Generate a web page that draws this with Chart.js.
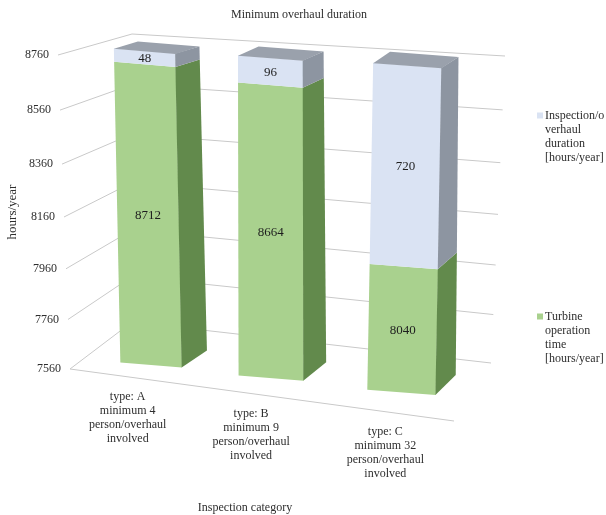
<!DOCTYPE html>
<html><head><meta charset="utf-8">
<script src="https://cdn.jsdelivr.net/npm/chart.js@4.4.0/dist/chart.umd.min.js"></script>
<style>html,body{margin:0;padding:0;background:#fff;}canvas{display:block;}</style>
</head><body>
<canvas id="c" width="606" height="515"></canvas>
<script>
// ---------- data ----------
const categories = [
  ["type: A", "minimum 4", "person/overhaul", "involved"],
  ["type: B", "minimum 9", "person/overhaul", "involved"],
  ["type: C", "minimum 32", "person/overhaul", "involved"]
];
const turbineOperation = [8712, 8664, 8040];
const inspectionDuration = [48, 96, 720];
const yTickValues = [7560, 7760, 7960, 8160, 8360, 8560, 8760];
const seriesNames = ["Turbine operation time [hours/year]", "Inspection/overhaul duration [hours/year]"];
const legendLines = [["Inspection/o", "verhaul", "duration", "[hours/year]"], ["Turbine", "operation", "time", "[hours/year]"]];
const chartTitle = "Minimum overhaul duration";
const yAxisTitle = "hours/year";
const xAxisTitle = "Inspection category";

// ---------- style / projection ----------
const FONT = '"Liberation Serif", "Times New Roman", serif';
const frontColors = ['#a9d18e', '#dae3f3'];
const sideColors = ['#628a4c', '#8d95a1'];
const topColor = '#9aa1ac';
const gridColor = '#c9c9c9';
const textColor = '#2e2e2e';

const warp = t => (334 * t - 20 * t * t) / 314;
const topL = x => 51 + 0.055 * (x - 144.5);
const botL = x => 365 + 0.104 * (x - 144.5);
const xwarp = x => 0.00032 * (x - 144.5) * (x - 407);
const widthScale = x => 1 + 0.0004 * (x - 276);
const shiftBottom = x => 6.5 - 0.047 * (x - 144.5);
const slopeX = 0.08;
const depth = (xs, t) => {
  const w = warp(t);
  const tx = 24 - 0.027 * (xs - 144.5), ty = -7 - 0.0153 * (xs - 144.5);
  const bx = 25 - 0.019 * (xs - 144.5), by = -17 - 0.0115 * (xs - 144.5);
  return { x: tx + (bx - tx) * w, y: ty + (by - ty) * w };
};
const FL = t => ({ x: 58 + 12 * t, y: 55 + 314 * warp(t) });
const BL = t => ({ x: 132, y: 34 + 288 * warp(t) });
const BR = t => ({ x: 505 - 14 * t, y: 56 + 307 * warp(t) });
const FR = { x: 454, y: 421 };

const perspectivePlugin = {
  id: 'perspective3d',
  beforeDatasetsDraw(chart) {
    const ctx = chart.ctx;
    const ys = chart.scales.y;
    const cTop = ys.getPixelForValue(ys.max);
    const cBot = ys.getPixelForValue(ys.min);
    const H = cBot - cTop;
    const tOfPix = p => (p - cTop) / H;

    ctx.save();
    // walls & floor gridlines
    ctx.strokeStyle = gridColor; ctx.lineWidth = 1;
    yTickValues.forEach(v => {
      const t = tOfPix(ys.getPixelForValue(v));
      const a = FL(t), b = BL(t), c = BR(t);
      ctx.beginPath(); ctx.moveTo(a.x, a.y); ctx.lineTo(b.x, b.y); ctx.lineTo(c.x, c.y); ctx.stroke();
    });
    const f0 = FL(1);
    ctx.beginPath(); ctx.moveTo(f0.x, f0.y); ctx.lineTo(FR.x, FR.y); ctx.stroke();

    // tick labels
    ctx.fillStyle = textColor; ctx.font = '12px ' + FONT;
    ctx.textAlign = 'right'; ctx.textBaseline = 'middle';
    yTickValues.forEach(v => {
      const p = FL(tOfPix(ys.getPixelForValue(v)));
      ctx.fillText(String(v), p.x - 9, p.y);
    });

    // titles
    ctx.textAlign = 'center';
    ctx.font = '12px ' + FONT;
    ctx.fillText(chartTitle, 299, 15);
    ctx.fillText(xAxisTitle, 245, 508);
    ctx.save();
    ctx.translate(13, 212); ctx.rotate(-Math.PI / 2);
    ctx.font = '13px ' + FONT;
    ctx.fillText(yAxisTitle, 0, 0);
    ctx.restore();

    // legend
    ctx.textAlign = 'left';
    ctx.font = '12px ' + FONT;
    const legendY = [116, 317];
    const legendColor = [frontColors[1], frontColors[0]];
    legendLines.forEach((lines, k) => {
      ctx.fillStyle = legendColor[k];
      ctx.fillRect(537, legendY[k] - 3.5, 6, 6);
      ctx.fillStyle = textColor;
      lines.forEach((s, j) => ctx.fillText(s, 545, legendY[k] + j * 14));
    });

    // bars
    const metas = chart.getSortedVisibleDatasetMetas();
    const n = chart.data.labels.length;
    const floorY = x => f0.y + (FR.y - f0.y) * (x - f0.x) / (FR.x - f0.x);
    for (let i = 0; i < n; i++) {
      const xc = metas[0].data[i].x;
      const Xs0 = xc + xwarp(xc);
      const a = widthScale(xc);
      const c = shiftBottom(Xs0) / H;
      const e = Xs0 - a * xc - c * cTop;
      const b = slopeX;
      const tl = topL(Xs0), bl = botL(Xs0);
      const Yc = t => tl + warp(t) * (bl - tl);
      const parts = metas.map(m => {
        const el = m.data[i];
        const y1 = Math.min(el.y, el.base), y2 = Math.max(el.y, el.base);
        const t1 = tOfPix(y1), t2 = tOfPix(y2);
        const Y1 = Yc(t1), Y2 = Yc(t2);
        const d = (Y2 - Y1) / (y2 - y1);
        const f = Y1 - b * xc - d * y1;
        const M = (x, y) => ({ x: a * x + c * y + e, y: b * x + d * y + f });
        return { el, ds: m.index, y1, y2, t1, t2, d, f, M };
      });
      // front faces drawn by the bar elements themselves, projected
      parts.forEach(p => {
        ctx.save();
        ctx.transform(a, b, c, p.d, e, p.f);
        p.el.draw(ctx);
        ctx.restore();
      });
      // side faces
      parts.forEach(p => {
        const xr = xc + p.el.width / 2;
        const A = p.M(xr, p.y1), B = p.M(xr, p.y2);
        const dA = depth(Xs0, p.t1), dB = depth(Xs0, p.t2);
        ctx.fillStyle = sideColors[p.ds];
        ctx.beginPath();
        ctx.moveTo(A.x - 0.3, A.y); ctx.lineTo(A.x + dA.x, A.y + dA.y);
        ctx.lineTo(B.x + dB.x, B.y + dB.y); ctx.lineTo(B.x - 0.3, B.y);
        ctx.closePath(); ctx.fill();
      });
      // top face
      const top = parts[parts.length - 1];
      {
        const xl = xc - top.el.width / 2, xr = xc + top.el.width / 2;
        const L = top.M(xl, top.y1), R = top.M(xr, top.y1);
        const dT = depth(Xs0, top.t1);
        ctx.fillStyle = topColor;
        ctx.beginPath();
        ctx.moveTo(L.x, L.y + 0.3); ctx.lineTo(R.x, R.y + 0.3);
        ctx.lineTo(R.x + dT.x, R.y + dT.y); ctx.lineTo(L.x + dT.x, L.y + dT.y);
        ctx.closePath(); ctx.fill();
      }
      // value labels
      ctx.fillStyle = '#1e1e1e'; ctx.font = '13px ' + FONT;
      ctx.textAlign = 'center'; ctx.textBaseline = 'middle';
      parts.forEach(p => {
        const q = p.M(xc, (p.y1 + p.y2) / 2);
        ctx.fillText(String(chart.data.datasets[p.ds].data[i]), q.x, q.y + 1);
      });
      // category labels
      ctx.fillStyle = textColor; ctx.font = '12px ' + FONT;
      const lx = Xs0 - 17 - 0.019 * (Xs0 - 144.5);
      const ly = floorY(lx) + 20;
      categories[i].forEach((s, j) => ctx.fillText(s, lx, ly + j * 14));
    }
    ctx.restore();
    return false;
  }
};

new Chart(document.getElementById('c'), {
  type: 'bar',
  data: {
    labels: categories,
    datasets: [
      { label: seriesNames[0], data: turbineOperation, backgroundColor: frontColors[0], base: yTickValues[0] },
      { label: seriesNames[1], data: inspectionDuration, backgroundColor: frontColors[1] }
    ]
  },
  options: {
    responsive: false,
    animation: false,
    devicePixelRatio: 1,
    layout: { padding: { left: 79, right: 133, top: 50, bottom: 150 } },
    datasets: { bar: { barPercentage: 0.495, categoryPercentage: 1, borderWidth: 0 } },
    scales: {
      x: { display: false, stacked: true },
      y: { display: false, stacked: true, min: yTickValues[0], max: yTickValues[yTickValues.length - 1], grid: { lineWidth: 0 } }
    },
    plugins: { legend: { display: false }, title: { display: false }, tooltip: { enabled: false } }
  },
  plugins: [perspectivePlugin]
});
</script>
</body></html>
